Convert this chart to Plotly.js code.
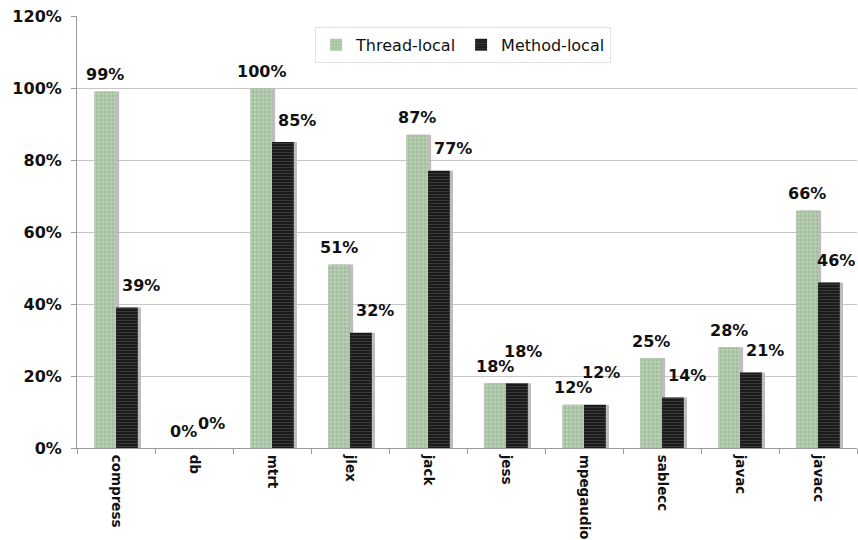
<!DOCTYPE html>
<html>
<head>
<meta charset="utf-8">
<script src="https://cdn.plot.ly/plotly-3.0.1.min.js"></script>
<style>
  html, body { margin: 0; padding: 0; background: #fff; }
  #chart { width: 858px; height: 540px; }
</style>
</head>
<body>
<div id="chart"></div>
<script>
// Benchmarks and the share of allocations that are thread-local / method-local
const benchmarks = ['compress', 'db', 'mtrt', 'jlex', 'jack', 'jess', 'mpegaudio', 'sablecc', 'javac', 'javacc'];
const threadLocal = [99, 0, 100, 51, 87, 18, 12, 25, 28, 66];
const methodLocal = [39, 0, 85, 32, 77, 18, 12, 14, 21, 46];
const yTicks = [0, 0.2, 0.4, 0.6, 0.8, 1.0, 1.2];

const FONT = 'DejaVu Sans, Verdana, sans-serif';
const BAR_W = 0.28;
const SHADOW_SHIFT = 0.04;

const toFrac = v => v / 100;

function shadow(vals, offset) {
  return {
    type: 'bar', x: benchmarks, y: vals.map(toFrac),
    width: BAR_W, offset: offset + SHADOW_SHIFT,
    marker: { color: '#bdbdbd', line: { width: 0 } },
    showlegend: false, hoverinfo: 'skip'
  };
}

const traces = [
  shadow(threadLocal, -BAR_W),
  shadow(methodLocal, 0),
  {
    type: 'bar', name: 'Thread-local', x: benchmarks, y: threadLocal.map(toFrac),
    width: BAR_W, offset: -BAR_W,
    marker: {
      color: '#a1bf9c',
      line: { width: 0 },
      pattern: { shape: '+', fgcolor: '#d3e0d0', bgcolor: '#a1bf9c', size: 4, solidity: 0.25 }
    }
  },
  {
    type: 'bar', name: 'Method-local', x: benchmarks, y: methodLocal.map(toFrac),
    width: BAR_W, offset: 0,
    marker: {
      color: '#1b1b1b',
      line: { width: 0 },
      pattern: { shape: '-', fgcolor: '#3d3d3d', bgcolor: '#1b1b1b', size: 3, solidity: 0.3 }
    }
  }
];

// Value labels above each bar; the method-local label is lifted further when it
// would collide with its neighbour, and pulled in at the right edge.
const annotations = [];
const last = benchmarks.length - 1;
benchmarks.forEach((b, i) => {
  annotations.push({
    x: b, y: toFrac(threadLocal[i]), xref: 'x', yref: 'y',
    text: threadLocal[i] + '%', showarrow: false,
    xshift: -11, yshift: 17, yanchor: 'middle',
    font: { family: FONT, size: 16, weight: 'bold', color: '#111' }
  });
  const close = Math.abs(threadLocal[i] - methodLocal[i]) <= 3;
  let xs = close ? 17 : 25;
  if (i === last) xs = 18;
  annotations.push({
    x: b, y: toFrac(methodLocal[i]), xref: 'x', yref: 'y',
    text: methodLocal[i] + '%', showarrow: false,
    xshift: xs, yshift: close ? (methodLocal[i] === 0 ? 25 : 32) : 22, yanchor: 'middle',
    font: { family: FONT, size: 16, weight: 'bold', color: '#111' }
  });
});

const layout = {
  width: 858, height: 540,
  margin: { l: 77, r: 1, t: 16, b: 92 },
  paper_bgcolor: '#fff', plot_bgcolor: '#fff',
  barmode: 'overlay',
  showlegend: true,
  legend: {
    orientation: 'h', x: 0.495, xanchor: 'center', y: 0.975, yanchor: 'top',
    bgcolor: '#fff', bordercolor: '#e2e2e2', borderwidth: 1,
    font: { family: FONT, size: 16, color: '#111' },
    itemwidth: 30, tracegroupgap: 0
  },
  xaxis: {
    type: 'category', range: [-0.5, benchmarks.length - 0.5],
    showline: true, linecolor: '#9a9a9a', linewidth: 1,
    ticks: 'outside', tickson: 'boundaries', ticklen: 5, tickcolor: '#9a9a9a',
    tickangle: 90,
    tickfont: { family: FONT, size: 13.5, weight: 'bold', color: '#111' },
    ticklabelstandoff: 3,
    showgrid: false, zeroline: false, fixedrange: true
  },
  yaxis: {
    range: [0, 1.2], tickvals: yTicks, tickformat: '.0%',
    showline: true, linecolor: '#9a9a9a', linewidth: 1,
    ticks: 'outside', ticklen: 5, tickcolor: '#9a9a9a',
    showgrid: true, gridcolor: '#c6c6c6', gridwidth: 1,
    zeroline: false,
    tickfont: { family: FONT, size: 16, weight: 'bold', color: '#111' },
    ticklabelstandoff: 6,
    fixedrange: true
  },
  annotations: annotations
};

Plotly.newPlot('chart', traces, layout, { displayModeBar: false, staticPlot: true });
</script>
</body>
</html>
